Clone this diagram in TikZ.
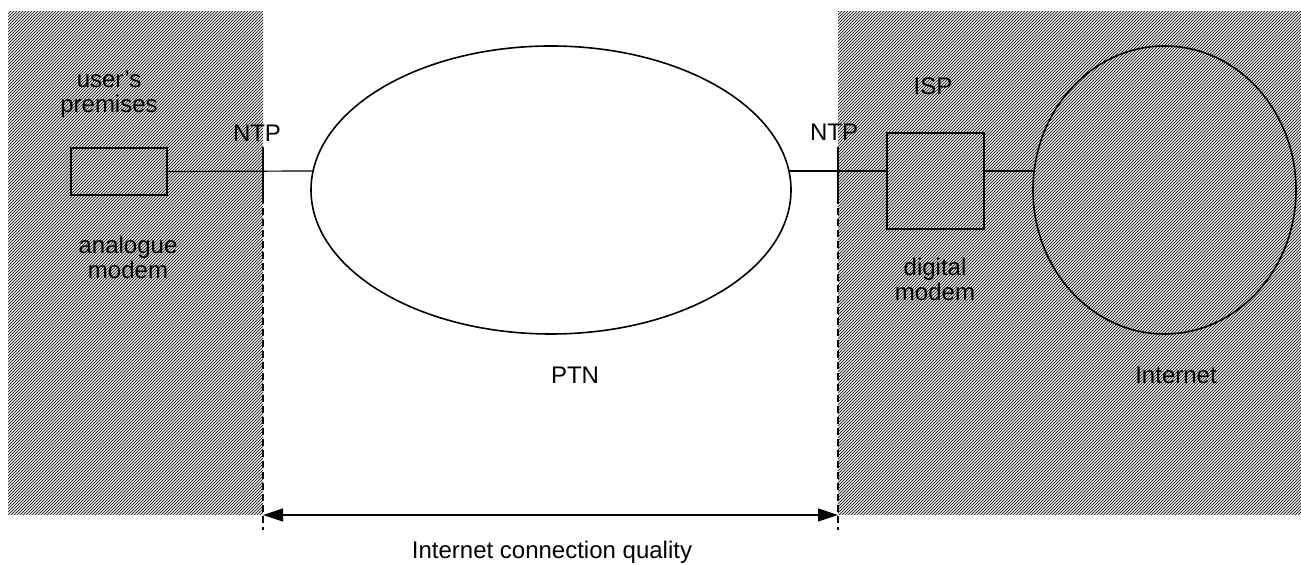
\documentclass[tikz,border=0pt]{standalone}
\usepackage{fontspec}
\setmainfont{Liberation Sans}
\usetikzlibrary{shapes.geometric,arrows.meta,patterns.meta}

\begin{document}
\begin{tikzpicture}[x=0.5pt, y=-0.5pt,
    hatched/.style={pattern={Lines[angle=45,distance=1.0607pt,line width=0.5pt]}, pattern color=black!80},
    modembox/.style={draw, line width=0.8pt, rectangle, inner sep=0pt, outer sep=0pt},
    netcloud/.style={draw, line width=0.8pt, ellipse, inner sep=0pt, outer sep=0pt},
    lbl/.style={font=\fontsize{12}{12.5}\selectfont, align=center, inner sep=0pt},
    link/.style={line width=0.6pt},
    ntpdash/.style={line width=0.6pt, dash pattern=on 3.5pt off 2pt}]
    % Frame
    \useasboundingbox (0,0) rectangle (1301,565);

    % Hatched areas
    \fill[hatched] (8,12) rectangle (263,515);
    \fill[hatched] (838,12) rectangle (1301,515);

    % Modems and networks
    \node[modembox, minimum width=48pt, minimum height=23.5pt] (usermodem) at (119,171.5) {};
    \node[netcloud, fill=white, minimum width=240pt, minimum height=144pt] (ptn) at (551,190) {};
    \node[modembox, minimum width=48.5pt, minimum height=48pt] (ispmodem) at (935.5,181) {};
    \node[netcloud, minimum width=131.5pt, minimum height=144pt] (internet) at (1164.5,190) {};

    % Network termination points
    \coordinate (ntpL) at (263,171);
    \coordinate (ntpR) at (838,171);
    \coordinate (ntpLtop) at (263,147);
    \coordinate (ntpLmid) at (263,197);
    \coordinate (ntpLbot) at (263,530);
    \coordinate (ntpRtop) at (838,147);
    \coordinate (ntpRmid) at (838,197);
    \coordinate (ntpRbot) at (838,530);
    \draw[link] (ntpLtop) -- (ntpLmid);
    \draw[ntpdash] (ntpLmid) -- (ntpLbot);
    \draw[link] (ntpRtop) -- (ntpRmid);
    \draw[ntpdash] (ntpRmid) -- (ntpRbot);

    % Links
    \draw[link] (usermodem.east) -- (ptn.175.4 |- ntpL);
    \draw[link] (ptn.4.6 |- ntpR) -- (ispmodem.west |- ntpR);
    \draw[link] (ispmodem.east |- ntpR) -- (internet.171.7 |- ntpR);

    % Quality span
    \coordinate (qualL) at (263,515);
    \coordinate (qualR) at (838,515);
    \draw[link, {Triangle[length=10pt,width=6.5pt]}-{Triangle[length=10pt,width=6.5pt]}] (qualL) -- (qualR);

    % Labels
    \node[lbl] (userlbl) at (109,94) {user's\\premises};
    \node[lbl] (analbl) at (128,257) {analogue\\modem};
    \node[lbl] (ntpLlbl) at (257,133) {NTP};
    \node[lbl] (ntpRlbl) at (834,132) {NTP};
    \node[lbl] (isplbl) at (933,86) {ISP};
    \node[lbl] (diglbl) at (935,279) {digital\\modem};
    \node[lbl] (ptnlbl) at (575,375) {PTN};
    \node[lbl] (inetlbl) at (1176,375) {Internet};
    \node[lbl] (qualbl) at (552,552) {Internet connection quality};
\end{tikzpicture}
\end{document}
